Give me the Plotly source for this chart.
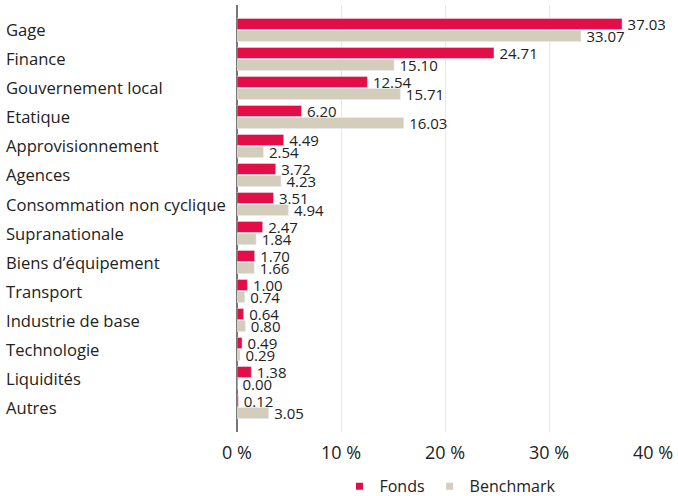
import plotly.graph_objects as go

categories = ["Gage", "Finance", "Gouvernement local", "Etatique", "Approvisionnement",
              "Agences", "Consommation non cyclique", "Supranationale", "Biens d’équipement",
              "Transport", "Industrie de base", "Technologie", "Liquidités", "Autres"]
fonds = [37.03, 24.71, 12.54, 6.20, 4.49, 3.72, 3.51, 2.47, 1.70, 1.00, 0.64, 0.49, 1.38, 0.12]
benchmark = [33.07, 15.10, 15.71, 16.03, 2.54, 4.23, 4.94, 1.84, 1.66, 0.74, 0.80, 0.29, 0.00, 3.05]
x_ticks = [0, 10, 20, 30, 40]
x_tick_labels = ["0 %", "10 %", "20 %", "30 %", "40 %"]

FONT = "Open Sans"
TXT = "#222222"
RED = "#E30D48"
BEIGE = "#D5CDBC"

fig = go.Figure()
fig.add_trace(go.Bar(y=categories, x=fonds, orientation="h", name="Fonds", showlegend=False,
                     marker_color=RED, texttemplate="\u2009%{x:.2f}", textposition="outside",
                     constraintext="none",
                     textfont=dict(size=15, color=TXT, family=FONT), cliponaxis=False))
fig.add_trace(go.Bar(y=categories, x=benchmark, orientation="h", name="Benchmark", showlegend=False,
                     marker_color=BEIGE, texttemplate="\u2009%{x:.2f}", textposition="outside",
                     constraintext="none",
                     textfont=dict(size=15, color=TXT, family=FONT), cliponaxis=False))
# legend entries with small square symbols
for nm, col in [("Fonds", RED), ("Benchmark", BEIGE)]:
    fig.add_trace(go.Scatter(x=[None], y=[None], mode="markers", name=nm,
                             marker=dict(symbol="square", size=7, color=col)))

for c in categories:
    fig.add_annotation(x=0, xref="paper", y=c, yref="y", text=c, showarrow=False,
                       xanchor="left", xshift=-233, font=dict(size=16.6, color=TXT, family=FONT))

fig.update_layout(
    width=678, height=496,
    margin=dict(l=237, r=25, t=5, b=64, autoexpand=False),
    paper_bgcolor="white", plot_bgcolor="white",
    barmode="group", bargap=0.17, bargroupgap=0.08,
    font=dict(family=FONT, color=TXT),
    showlegend=True,
    legend=dict(orientation="h", x=0.512, xanchor="center", y=-0.127, yanchor="middle",
                font=dict(size=16, color=TXT, family=FONT), itemwidth=30,
                traceorder="normal"),
    xaxis=dict(range=[0, 40], tickvals=x_ticks, ticktext=x_tick_labels, automargin=False,
               showgrid=True, gridcolor="#E8E8E8", gridwidth=1,
               zeroline=True, zerolinecolor="#777777", zerolinewidth=1.5,
               ticks="outside", ticklen=4, tickcolor="rgba(0,0,0,0)",
               tickfont=dict(size=18, color=TXT, family=FONT), fixedrange=True),
    yaxis=dict(autorange=False, range=[13.86, -0.86], showticklabels=False, automargin=False,
               showgrid=False, zeroline=False, fixedrange=True),
)

fig.write_html("out.html", config={"displayModeBar": False},
               post_script="document.body.style.margin='0';")
